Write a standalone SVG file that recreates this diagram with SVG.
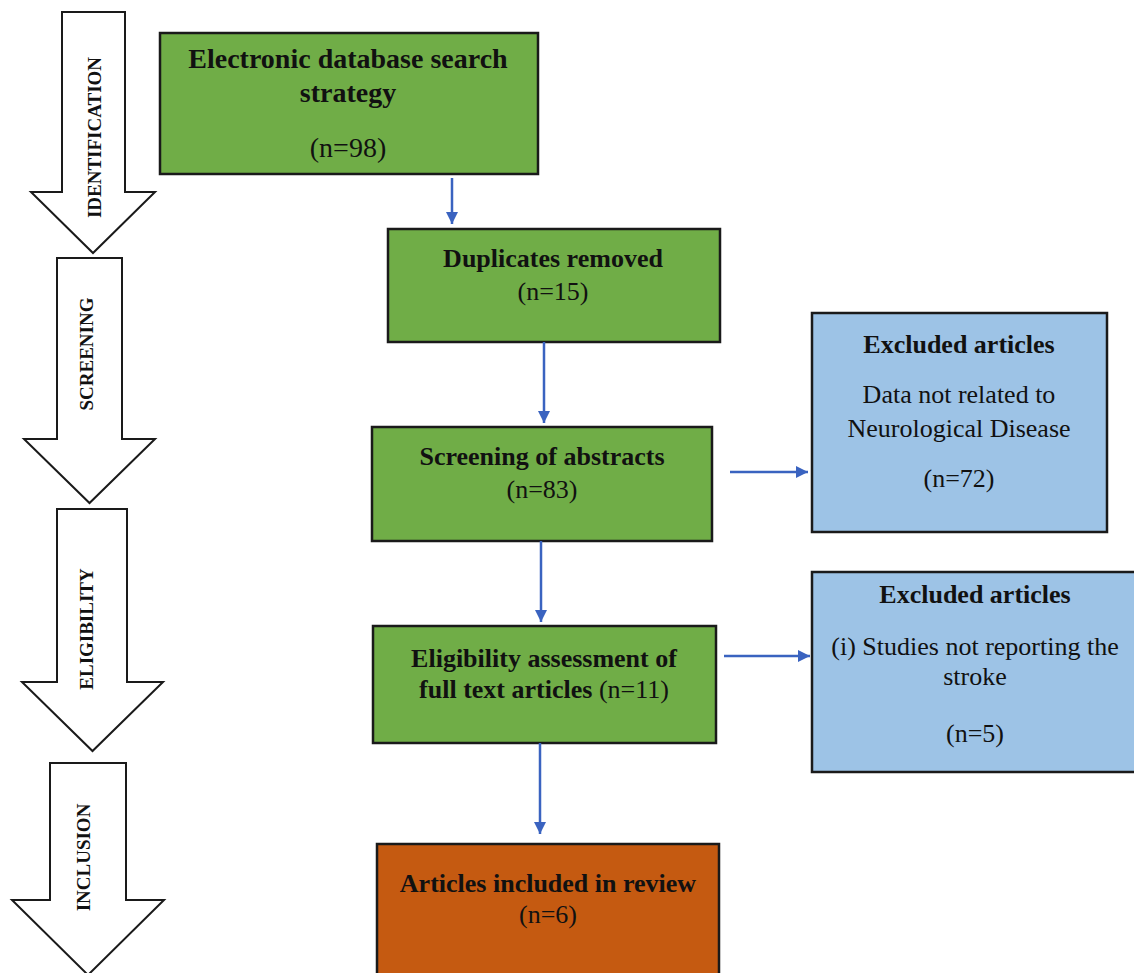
<svg xmlns="http://www.w3.org/2000/svg" width="1134" height="973" viewBox="0 0 1134 973">
<style>
.phase{fill:#ffffff;stroke:#1a1a1a;stroke-width:2;stroke-linejoin:miter}
.phaselbl{font-family:"Liberation Serif",serif;font-weight:bold;font-size:19px;fill:#111;text-anchor:middle}
.green{fill:#70ad47;stroke:#1a1a1a;stroke-width:2.5}
.blue{fill:#9dc3e6;stroke:#1a1a1a;stroke-width:2.5}
.orange{fill:#c55a11;stroke:#1a1a1a;stroke-width:2.5}
.b{font-family:"Liberation Serif",serif;font-weight:bold;font-size:26px;fill:#111;text-anchor:middle}
.r{font-family:"Liberation Serif",serif;font-size:26px;fill:#111;text-anchor:middle}
.conn{stroke:#3a63c0;stroke-width:2.5;fill:none;marker-end:url(#ah)}
</style>
<defs>
<marker id="ah" viewBox="0 0 10 10" refX="10" refY="5" markerWidth="12" markerHeight="12" markerUnits="userSpaceOnUse" orient="auto">
<path d="M0,0 L10,5 L0,10 z" fill="#3a63c0"/>
</marker>
</defs>
<rect width="1134" height="973" fill="#ffffff"/>

<g id="phase-identification">
<path class="phase" d="M62,12 H125 V192 H155 L93,253 L31,192 H62 Z"/>
<text class="phaselbl" transform="translate(100.5,137.5) rotate(-90)">IDENTIFICATION</text>
</g>
<g id="phase-screening">
<path class="phase" d="M57,258 H122 V439 H155 L89.5,503 L24,439 H57 Z"/>
<text class="phaselbl" transform="translate(92.5,354) rotate(-90)">SCREENING</text>
</g>
<g id="phase-eligibility">
<path class="phase" d="M57,509 H127 V682 H163 L92.5,751 L22,682 H57 Z"/>
<text class="phaselbl" transform="translate(92.5,629) rotate(-90)">ELIGIBILITY</text>
</g>
<g id="phase-inclusion">
<path class="phase" d="M50,763 H126 V900 H164 L88,975 L12,900 H50 Z"/>
<text class="phaselbl" transform="translate(89.5,857.5) rotate(-90)">INCLUSION</text>
</g>

<g id="node-electronic">
<rect class="green" x="160" y="33" width="378" height="141"/>
<text class="b" x="348" y="68" style="font-size:28px">Electronic database search</text>
<text class="b" x="348" y="102" style="font-size:28px">strategy</text>
<text class="r" x="348" y="157" style="font-size:28px">(n=98)</text>
</g>
<g id="node-duplicates">
<rect class="green" x="388" y="229" width="332" height="113"/>
<text class="b" x="553" y="267">Duplicates removed</text>
<text class="r" x="553" y="300">(n=15)</text>
</g>
<g id="node-screening">
<rect class="green" x="372" y="427" width="340" height="114"/>
<text class="b" x="542" y="465">Screening of abstracts</text>
<text class="r" x="542" y="498">(n=83)</text>
</g>
<g id="node-eligibility">
<rect class="green" x="373" y="626" width="343" height="117"/>
<text class="b" x="544" y="667">Eligibility assessment of</text>
<text class="b" x="544" y="698">full text articles <tspan style="font-weight:normal">(n=11)</tspan></text>
</g>
<g id="node-included">
<rect class="orange" x="377" y="844" width="342" height="140"/>
<text class="b" x="548" y="892">Articles included in review</text>
<text class="r" x="548" y="923">(n=6)</text>
</g>
<g id="node-excluded1">
<rect class="blue" x="812" y="313" width="295" height="219"/>
<text class="b" x="959" y="353">Excluded articles</text>
<text class="r" x="959" y="403">Data not related to</text>
<text class="r" x="959" y="437">Neurological Disease</text>
<text class="r" x="959" y="487">(n=72)</text>
</g>
<g id="node-excluded2">
<rect class="blue" x="812" y="572" width="328" height="200"/>
<text class="b" x="975" y="603">Excluded articles</text>
<text class="r" x="975" y="655">(i) Studies not reporting the</text>
<text class="r" x="975" y="685">stroke</text>
<text class="r" x="975" y="742">(n=5)</text>
</g>

<g id="connectors">
<line class="conn" x1="452" y1="178" x2="452" y2="224"/>
<line class="conn" x1="544" y1="342" x2="544" y2="423"/>
<line class="conn" x1="541" y1="541" x2="541" y2="622"/>
<line class="conn" x1="540" y1="743" x2="540" y2="834"/>
<line class="conn" x1="730" y1="472" x2="808" y2="472"/>
<line class="conn" x1="724" y1="656" x2="810" y2="656"/>
</g>
</svg>
